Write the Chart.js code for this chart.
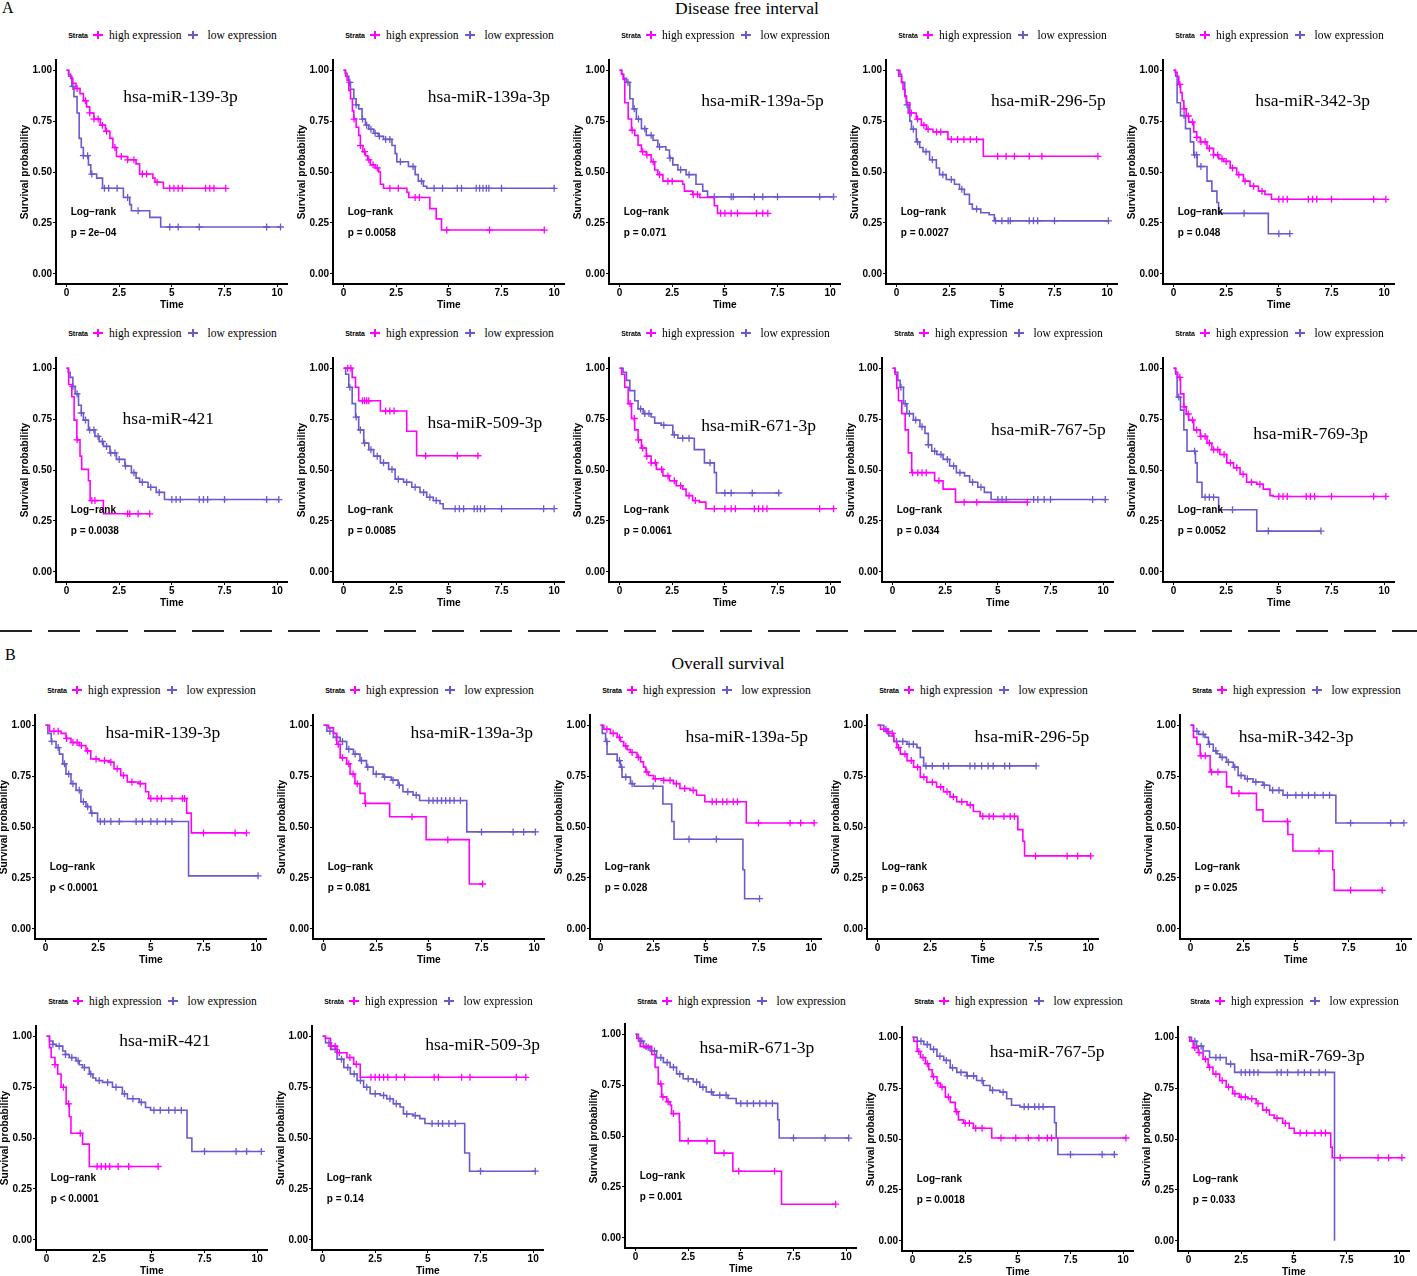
<!DOCTYPE html>
<html>
<head>
<meta charset="utf-8">
<title>Kaplan-Meier curves</title>
<script src="https://cdn.jsdelivr.net/npm/chart.js@4.4.1/dist/chart.umd.min.js"></script>
<style>
  html, body { margin: 0; padding: 0; background: #fff; }
  body { width: 1417px; height: 1276px; position: relative; overflow: hidden; font-family: "Liberation Sans", Arial, sans-serif; }
  .panel { position: absolute; }
  .legend { position: absolute; width: 233px; height: 16px; display: flex; justify-content: center; align-items: center; white-space: nowrap; color: #000; }
  .strata { font: bold 7px "Liberation Sans", Arial, sans-serif; margin-right: 5px; }
  .lab { font: 11.5px "Liberation Serif", "Times New Roman", serif; }
  .key { position: relative; display: inline-block; width: 10px; height: 8px; }
  .key::before { content: ''; position: absolute; left: 0; right: 0; top: 3px; height: 2px; background: currentColor; }
  .key::after { content: ''; position: absolute; left: 4px; width: 2px; top: 0; bottom: 0; background: currentColor; }
  .hdr { position: absolute; font-family: "Liberation Serif", "Times New Roman", serif; font-size: 17.5px; line-height: 1; color: #000; white-space: nowrap; }
  .sep { position: absolute; left: 0; top: 630px; width: 1417px; height: 2px; background: repeating-linear-gradient(to right, #222 0 32px, transparent 32px 48px); }
</style>
</head>
<body>
<div class="hdr" style="left:2px; top:0px; font-size:16px;">A</div>
<div class="hdr" style="left:747px; top:0px; transform:translateX(-50%);">Disease free interval</div>
<div class="sep"></div>
<div class="hdr" style="left:5px; top:647px; font-size:16px;">B</div>
<div class="hdr" style="left:728px; top:655px; transform:translateX(-50%);">Overall survival</div>

<script>
// Kaplan-Meier panels - miRNA high / low expression
// ==================================================

// axis ticks
const xTicks = [0, 2.5, 5, 7.5, 10];
const yTicks = [0, 0.25, 0.5, 0.75, 1];

// titles and p values, panel order = left to right, top to bottom
const dfiTitles = ['hsa-miR-139-3p', 'hsa-miR-139a-3p', 'hsa-miR-139a-5p', 'hsa-miR-296-5p', 'hsa-miR-342-3p',
                   'hsa-miR-421', 'hsa-miR-509-3p', 'hsa-miR-671-3p', 'hsa-miR-767-5p', 'hsa-miR-769-3p'];
const osTitles = dfiTitles.slice();
const dfiPvals = ['p = 2e\u221204', 'p = 0.0058', 'p = 0.071', 'p = 0.0027', 'p = 0.048',
                  'p = 0.0038', 'p = 0.0085', 'p = 0.0061', 'p = 0.034', 'p = 0.0052'];
const osPvals = ['p < 0.0001', 'p = 0.081', 'p = 0.028', 'p = 0.063', 'p = 0.025',
                 'p < 0.0001', 'p = 0.14', 'p = 0.001', 'p = 0.0018', 'p = 0.033'];

// ---- Disease free interval: [time, survival] steps + censor times ----
const dfi139_3pHi = [[0,1],[0.1,0.98],[0.2,0.96],[0.3,0.935],[0.45,0.91],[0.64,0.885],[0.8,0.85],[0.95,0.82],[1.1,0.79],[1.3,0.76],[1.6,0.73],[1.85,0.7],[2.06,0.665],[2.2,0.62],[2.37,0.576],[2.9,0.56],[3.3,0.54],[3.47,0.49],[4.1,0.47],[4.2,0.45],[4.6,0.42],[7.56,0.42]];
const dfi139_3pHiCens = [0.5,0.9,1.1,1.3,1.5,1.7,1.9,2.3,2.6,2.9,3.2,3.6,3.8,4.3,4.9,5.1,5.3,5.5,6.6,6.8,7.0,7.56];
const dfi139_3pLo = [[0,1],[0.1,0.97],[0.25,0.92],[0.35,0.87],[0.5,0.79],[0.6,0.665],[0.7,0.62],[0.8,0.58],[1.04,0.535],[1.15,0.49],[1.43,0.47],[1.71,0.42],[2.7,0.375],[3.0,0.34],[3.08,0.31],[3.95,0.277],[4.47,0.23],[10.16,0.23]];
const dfi139_3pLoCens = [0.3,0.8,1.0,1.2,1.8,2.0,2.4,2.9,3.4,4.9,5.3,6.3,9.5,10.16];

const dfi139a_3pHi = [[0,1],[0.1,0.97],[0.17,0.95],[0.25,0.9],[0.33,0.86],[0.42,0.8],[0.49,0.76],[0.6,0.72],[0.72,0.68],[0.8,0.63],[0.92,0.6],[1.04,0.58],[1.15,0.56],[1.27,0.535],[1.5,0.52],[1.67,0.5],[1.75,0.44],[1.9,0.42],[3.01,0.4],[3.1,0.375],[4.1,0.32],[4.4,0.27],[4.65,0.215],[9.53,0.215]];
const dfi139a_3pHiCens = [0.5,0.8,1.0,1.2,1.4,1.6,2.2,2.6,3.4,3.6,4.9,6.93,9.53];
const dfi139a_3pLo = [[0,1],[0.08,0.985],[0.17,0.97],[0.25,0.94],[0.33,0.906],[0.49,0.86],[0.6,0.83],[0.72,0.81],[0.88,0.76],[1.04,0.73],[1.2,0.71],[1.43,0.69],[1.65,0.675],[1.9,0.66],[2.3,0.63],[2.45,0.59],[2.53,0.55],[3.08,0.527],[3.4,0.487],[3.55,0.455],[3.79,0.43],[3.95,0.42],[10.0,0.42]];
const dfi139a_3pLoCens = [0.3,0.6,0.9,1.1,1.3,1.5,1.7,2.0,2.2,2.7,3.3,3.7,4.3,4.7,5.4,5.6,6.3,6.46,6.62,6.78,6.9,7.5,10.0];

const dfi139a_5pHi = [[0,1],[0.1,0.98],[0.17,0.955],[0.25,0.84],[0.41,0.76],[0.57,0.705],[0.72,0.68],[0.88,0.632],[1.04,0.6],[1.27,0.584],[1.5,0.55],[1.67,0.51],[1.82,0.487],[2.06,0.455],[3.0,0.44],[3.08,0.406],[3.47,0.39],[3.8,0.375],[4.5,0.334],[4.65,0.297],[7.04,0.297]];
const dfi139a_5pHiCens = [0.6,1.1,1.3,1.6,1.9,2.3,2.5,3.5,3.7,4.8,5.0,5.3,5.6,6.5,6.8,7.04];
const dfi139a_5pLo = [[0,1],[0.1,0.98],[0.2,0.96],[0.33,0.94],[0.49,0.86],[0.64,0.81],[0.8,0.76],[1.04,0.713],[1.27,0.68],[1.59,0.656],[1.82,0.624],[2.2,0.608],[2.37,0.568],[2.53,0.535],[2.77,0.511],[3.16,0.487],[3.63,0.44],[3.95,0.406],[4.18,0.378],[10.16,0.378]];
const dfi139a_5pLoCens = [0.4,0.7,0.9,1.2,1.5,1.9,2.4,2.9,3.3,4.5,5.3,5.4,6.4,6.8,7.5,9.5,10.16];

const dfi296_5pHi = [[0,1],[0.16,0.98],[0.24,0.94],[0.31,0.906],[0.4,0.87],[0.47,0.84],[0.63,0.79],[0.94,0.76],[1.18,0.73],[1.42,0.71],[1.73,0.697],[2.44,0.66],[4.12,0.577],[9.56,0.577]];
const dfi296_5pHiCens = [0.7,1.0,1.3,1.5,1.9,2.1,2.6,2.9,3.2,3.5,3.8,4.8,5.2,5.6,6.3,6.9,9.56];
const dfi296_5pLo = [[0,1],[0.1,0.97],[0.24,0.94],[0.39,0.874],[0.47,0.83],[0.55,0.79],[0.63,0.75],[0.71,0.71],[0.94,0.648],[1.1,0.62],[1.26,0.6],[1.57,0.56],[1.89,0.52],[2.04,0.487],[2.36,0.463],[2.75,0.44],[2.99,0.415],[3.22,0.39],[3.46,0.342],[3.6,0.318],[4.0,0.3],[4.4,0.29],[4.64,0.26],[10.06,0.26]];
const dfi296_5pLoCens = [0.5,0.8,1.0,1.4,1.7,2.2,2.6,3.1,3.8,4.7,5.0,5.3,5.4,6.3,6.5,6.7,7.5,10.06];

const dfi342_3pHi = [[0,1],[0.08,0.99],[0.17,0.97],[0.25,0.93],[0.33,0.89],[0.41,0.85],[0.49,0.81],[0.6,0.775],[0.72,0.745],[0.96,0.697],[1.1,0.67],[1.27,0.648],[1.59,0.616],[1.9,0.584],[2.15,0.565],[2.37,0.552],[2.69,0.52],[3.0,0.487],[3.32,0.455],[3.63,0.43],[4.03,0.406],[4.34,0.39],[4.65,0.366],[10.08,0.366]];
const dfi342_3pHiCens = [0.3,0.5,0.7,0.9,1.1,1.3,1.5,1.7,1.9,2.1,2.3,2.5,2.8,3.1,3.4,3.8,4.2,5.0,5.2,5.4,6.4,6.6,6.8,7.5,9.5,10.08];
const dfi342_3pLo = [[0,1],[0.1,0.97],[0.17,0.84],[0.33,0.777],[0.57,0.713],[0.8,0.648],[0.96,0.584],[1.12,0.527],[1.59,0.455],[1.82,0.406],[2.06,0.35],[2.14,0.297],[4.5,0.197],[5.52,0.197]];
const dfi342_3pLoCens = [0.5,1.0,1.1,1.3,3.35,5.0,5.52];

const dfi421Hi = [[0,1],[0.1,0.92],[0.25,0.86],[0.36,0.745],[0.49,0.648],[0.64,0.568],[0.72,0.503],[1.04,0.447],[1.12,0.35],[1.75,0.285],[3.95,0.285]];
const dfi421HiCens = [0.5,1.2,1.35,2.9,3.0,3.4,3.95];
const dfi421Lo = [[0,1],[0.08,0.98],[0.17,0.955],[0.3,0.91],[0.41,0.874],[0.57,0.818],[0.7,0.78],[0.8,0.745],[1.04,0.697],[1.35,0.665],[1.55,0.64],[1.75,0.616],[2.06,0.584],[2.37,0.552],[2.77,0.52],[3.08,0.487],[3.3,0.46],[3.47,0.44],[3.87,0.415],[4.26,0.39],[4.65,0.355],[10.08,0.355]];
const dfi421LoCens = [0.3,0.5,0.7,0.9,1.1,1.3,1.5,1.7,1.9,2.1,2.3,2.5,2.8,3.2,3.6,4.0,4.4,5.0,5.2,5.4,6.3,6.5,6.7,7.5,9.5,10.08];

const dfi509_3pHi = [[0,1],[0.41,0.955],[0.57,0.906],[0.72,0.84],[1.75,0.79],[3.0,0.69],[3.47,0.57],[6.38,0.57]];
const dfi509_3pHiCens = [0.2,0.35,0.9,1.0,1.1,1.2,2.0,2.2,2.4,3.9,5.4,6.38];
const dfi509_3pLo = [[0,1],[0.1,0.97],[0.25,0.906],[0.41,0.826],[0.57,0.76],[0.72,0.697],[0.96,0.632],[1.2,0.6],[1.43,0.568],[1.75,0.535],[2.14,0.503],[2.45,0.455],[2.85,0.44],[3.24,0.415],[3.63,0.39],[3.95,0.366],[4.26,0.35],[4.58,0.334],[4.73,0.31],[10.0,0.31]];
const dfi509_3pLoCens = [0.3,0.6,0.8,1.0,1.3,1.6,1.9,2.3,2.6,3.0,3.4,3.8,4.1,4.4,5.3,5.5,5.7,6.2,6.35,6.5,6.7,7.5,9.5,10.0];

const dfi671_3pHi = [[0,1],[0.1,0.97],[0.25,0.906],[0.41,0.826],[0.57,0.753],[0.72,0.697],[0.88,0.648],[1.04,0.608],[1.27,0.568],[1.5,0.535],[1.75,0.503],[2.06,0.471],[2.37,0.447],[2.69,0.423],[3.0,0.406],[3.16,0.374],[3.47,0.35],[3.79,0.342],[4.1,0.31],[10.16,0.31]];
const dfi671_3pHiCens = [0.5,0.7,0.9,1.1,1.3,1.5,1.7,2.0,2.3,2.6,2.9,3.3,3.6,4.5,5.0,5.3,5.5,6.4,6.6,6.8,7.0,9.5,10.16];
const dfi671_3pLo = [[0,1],[0.17,0.98],[0.33,0.94],[0.49,0.89],[0.72,0.84],[0.88,0.8],[1.12,0.777],[1.5,0.76],[1.67,0.73],[1.98,0.72],[2.53,0.673],[2.77,0.656],[3.55,0.6],[4.03,0.535],[4.5,0.487],[4.6,0.387],[7.56,0.387]];
const dfi671_3pLoCens = [1.0,1.2,1.4,2.1,2.6,3.0,3.3,4.3,5.0,5.3,6.3,7.56];

const dfi767_5pHi = [[0,1],[0.12,0.97],[0.2,0.9],[0.28,0.84],[0.44,0.777],[0.6,0.697],[0.75,0.584],[0.91,0.487],[2.0,0.447],[2.4,0.406],[2.99,0.342],[6.4,0.342]];
const dfi767_5pHiCens = [0.95,1.2,1.4,1.6,2.2,3.4,4.0,6.4];
const dfi767_5pLo = [[0,1],[0.12,0.98],[0.25,0.94],[0.36,0.906],[0.52,0.826],[0.68,0.777],[0.99,0.745],[1.3,0.713],[1.54,0.68],[1.7,0.624],[1.86,0.592],[2.1,0.576],[2.4,0.552],[2.71,0.52],[3.03,0.487],[3.42,0.471],[3.66,0.44],[4.05,0.415],[4.36,0.39],[4.68,0.355],[10.1,0.355]];
const dfi767_5pLoCens = [0.4,0.6,0.8,1.1,1.4,1.7,2.0,2.3,2.6,2.9,3.2,3.8,4.2,5.0,5.2,5.4,6.7,6.9,7.2,7.5,9.5,10.1];

const dfi769_3pHi = [[0,1],[0.1,0.98],[0.2,0.955],[0.33,0.874],[0.49,0.81],[0.6,0.775],[0.72,0.745],[0.96,0.697],[1.27,0.665],[1.59,0.632],[1.82,0.6],[2.2,0.576],[2.53,0.535],[2.85,0.511],[3.16,0.479],[3.47,0.44],[3.95,0.43],[4.26,0.406],[4.58,0.374],[4.73,0.37],[10.08,0.37]];
const dfi769_3pHiCens = [0.3,0.5,0.7,0.9,1.1,1.3,1.5,1.7,1.9,2.1,2.4,2.7,3.0,3.3,3.7,4.1,5.0,5.2,5.4,6.3,6.5,6.7,7.5,9.5,10.08];
const dfi769_3pLo = [[0,1],[0.1,0.97],[0.17,0.858],[0.33,0.794],[0.49,0.697],[0.64,0.592],[1.04,0.535],[1.12,0.44],[1.35,0.366],[2.14,0.305],[3.95,0.2],[7.0,0.2]];
const dfi769_3pLoCens = [0.25,1.0,1.5,1.7,1.9,2.8,4.5,7.0];

// ---- Overall survival ----
const os139_3pHi = [[0,1],[0.19,0.97],[0.74,0.96],[0.97,0.935],[1.21,0.915],[1.6,0.9],[1.92,0.874],[2.15,0.834],[2.55,0.826],[3.02,0.818],[3.25,0.786],[3.57,0.753],[3.88,0.721],[4.43,0.713],[4.75,0.673],[4.9,0.64],[6.7,0.568],[6.92,0.471],[9.54,0.471]];
const os139_3pHiCens = [0.4,0.6,1.0,1.3,1.5,1.7,2.0,2.4,2.8,3.1,3.4,3.7,4.1,4.5,5.0,5.3,5.5,6.0,6.5,6.6,7.5,9.0,9.54];
const os139_3pLo = [[0,1],[0.11,0.96],[0.27,0.92],[0.5,0.89],[0.66,0.858],[0.82,0.81],[0.97,0.76],[1.21,0.713],[1.45,0.68],[1.68,0.624],[1.92,0.6],[2.15,0.568],[2.47,0.527],[6.79,0.26],[10.09,0.26]];
const os139_3pLoCens = [0.3,0.6,0.9,1.1,1.3,1.6,1.8,2.0,2.2,2.6,2.8,3.1,3.5,4.3,4.6,5.0,5.3,5.7,6.0,10.09];

const os139a_3pHi = [[0,1],[0.24,0.987],[0.47,0.96],[0.63,0.906],[0.79,0.84],[1.1,0.81],[1.26,0.76],[1.49,0.713],[1.73,0.665],[1.97,0.616],[3.14,0.55],[4.87,0.438],[6.92,0.22],[7.55,0.22]];
const os139a_3pHiCens = [0.7,0.9,1.2,1.4,1.6,2.0,4.2,5.9,7.55];
const os139a_3pLo = [[0,1],[0.16,0.97],[0.47,0.94],[0.79,0.92],[1.1,0.882],[1.42,0.858],[1.73,0.826],[2.04,0.794],[2.36,0.76],[2.83,0.745],[3.22,0.73],[3.54,0.705],[3.77,0.673],[4.25,0.656],[4.56,0.63],[6.8,0.476],[10.06,0.476]];
const os139a_3pLoCens = [0.3,0.6,0.9,1.2,1.5,1.8,2.1,2.5,2.9,3.3,3.6,4.0,4.4,5.0,5.2,5.4,5.6,5.8,6.0,6.2,6.5,7.5,9.0,9.5,10.06];

const os139a_5pHi = [[0,1],[0.16,0.98],[0.47,0.96],[0.79,0.94],[0.95,0.92],[1.1,0.898],[1.26,0.88],[1.42,0.866],[1.73,0.842],[1.9,0.82],[2.04,0.794],[2.15,0.77],[2.28,0.753],[2.52,0.737],[2.99,0.729],[3.46,0.713],[3.77,0.689],[4.25,0.68],[4.56,0.656],[4.95,0.624],[6.92,0.52],[10.14,0.52]];
const os139a_5pHiCens = [0.3,0.6,0.9,1.2,1.5,1.8,2.2,2.6,3.0,3.3,3.6,4.0,4.4,5.3,5.5,5.8,6.0,6.3,6.5,7.5,9.0,9.5,10.14];
const os139a_5pLo = [[0,1],[0.08,0.96],[0.24,0.92],[0.31,0.858],[0.79,0.826],[0.94,0.794],[1.02,0.745],[1.42,0.713],[1.6,0.7],[2.96,0.613],[3.38,0.527],[3.49,0.44],[6.76,0.29],[6.84,0.148],[7.55,0.148]];
const os139a_5pLoCens = [0.3,0.9,1.0,1.2,1.5,2.5,4.2,5.5,7.55];

const os296_5pHi = [[0,1],[0.14,0.98],[0.45,0.96],[0.77,0.92],[0.92,0.89],[1.08,0.858],[1.4,0.826],[1.71,0.794],[2.03,0.745],[2.34,0.72],[2.8,0.697],[3.13,0.673],[3.44,0.648],[3.76,0.624],[4.25,0.608],[4.55,0.576],[4.87,0.552],[6.66,0.487],[6.9,0.43],[6.98,0.358],[10.12,0.358]];
const os296_5pHiCens = [0.4,0.7,1.0,1.3,1.6,1.9,2.2,2.6,3.0,3.3,3.6,4.0,4.4,5.0,5.3,5.5,6.0,6.3,6.5,7.5,9.0,9.5,10.12];
const os296_5pLo = [[0,1],[0.3,0.97],[0.53,0.947],[0.77,0.92],[1.4,0.906],[1.87,0.89],[2.03,0.842],[2.19,0.8],[7.53,0.8]];
const os296_5pLoCens = [0.5,0.9,1.2,1.5,1.7,2.3,2.6,3.13,3.37,4.39,4.62,4.94,5.25,5.49,6.04,6.27,7.53];

const os342_3pHi = [[0,1],[0.14,0.94],[0.3,0.906],[0.46,0.85],[0.93,0.77],[1.71,0.697],[1.95,0.665],[3.13,0.584],[3.44,0.527],[4.62,0.463],[4.86,0.382],[6.75,0.29],[6.82,0.189],[9.1,0.189]];
const os342_3pHiCens = [0.5,0.7,1.0,1.3,2.3,4.6,6.1,7.6,9.1];
const os342_3pLo = [[0,1],[0.14,0.97],[0.38,0.955],[0.69,0.94],[0.85,0.906],[1.08,0.874],[1.25,0.86],[1.4,0.842],[1.71,0.818],[2.03,0.794],[2.26,0.753],[2.58,0.737],[2.97,0.721],[3.44,0.705],[3.76,0.68],[4.39,0.656],[6.9,0.52],[10.13,0.52]];
const os342_3pLoCens = [0.3,0.6,0.9,1.2,1.5,1.8,2.1,2.4,2.7,3.1,3.5,3.9,4.2,4.6,5.0,5.3,5.6,5.9,6.3,6.6,7.6,9.5,10.13];

const os421Hi = [[0,1],[0.14,0.944],[0.22,0.895],[0.4,0.86],[0.53,0.814],[0.69,0.749],[0.93,0.668],[1.08,0.604],[1.16,0.523],[1.71,0.47],[2.03,0.36],[5.3,0.36]];
const os421HiCens = [0.4,0.8,1.05,1.6,2.4,2.6,2.8,3.0,3.4,3.9,5.3];
const os421Lo = [[0,1],[0.14,0.976],[0.3,0.96],[0.46,0.951],[0.77,0.927],[0.9,0.91],[1.08,0.895],[1.4,0.879],[1.55,0.86],[1.71,0.846],[2.03,0.814],[2.2,0.795],[2.34,0.782],[2.66,0.773],[3.13,0.749],[3.6,0.717],[3.84,0.693],[4.4,0.675],[4.7,0.65],[4.94,0.636],[6.67,0.5],[6.9,0.434],[10.2,0.434]];
const os421LoCens = [0.3,0.6,0.9,1.2,1.5,1.8,2.1,2.5,2.9,3.3,3.7,4.1,4.5,5.1,5.4,5.8,6.1,6.4,7.5,9.0,9.5,10.2];

const os509_3pHi = [[0,1],[0.14,0.99],[0.38,0.951],[0.69,0.919],[1.16,0.895],[1.48,0.862],[1.79,0.798],[9.65,0.798]];
const os509_3pHiCens = [0.4,0.6,0.8,1.3,1.6,2.3,2.5,2.7,2.9,3.1,3.5,3.9,5.3,5.5,6.6,7.0,9.2,9.65];
const os509_3pLo = [[0,1],[0.14,0.968],[0.38,0.935],[0.69,0.887],[1.01,0.846],[1.32,0.814],[1.64,0.782],[1.95,0.749],[2.26,0.717],[2.74,0.709],[3.05,0.693],[3.36,0.668],[3.68,0.652],[3.84,0.618],[4.3,0.61],[4.62,0.595],[4.86,0.571],[6.75,0.426],[6.98,0.337],[10.1,0.337]];
const os509_3pLoCens = [0.3,0.6,0.9,1.2,1.5,1.8,2.1,2.5,2.9,3.2,3.5,4.0,4.4,5.2,5.5,5.7,6.0,6.3,7.5,10.1];

const os671_3pHi = [[0,1],[0.06,0.98],[0.22,0.94],[0.77,0.9],[0.93,0.837],[1.08,0.756],[1.24,0.692],[1.48,0.668],[1.64,0.652],[1.71,0.61],[2.08,0.568],[2.1,0.476],[3.76,0.416],[4.62,0.327],[6.93,0.165],[9.5,0.165]];
const os671_3pHiCens = [0.5,1.2,1.3,1.55,1.8,2.5,3.4,4.2,4.9,6.6,9.5];
const os671_3pLo = [[0,1],[0.14,0.966],[0.38,0.934],[0.69,0.918],[1.0,0.885],[1.32,0.861],[1.64,0.837],[1.95,0.805],[2.26,0.781],[2.74,0.765],[3.05,0.74],[3.36,0.716],[3.68,0.7],[4.39,0.684],[4.78,0.66],[6.75,0.58],[6.82,0.49],[10.12,0.49]];
const os671_3pLoCens = [0.3,0.6,0.9,1.2,1.5,1.8,2.1,2.5,2.9,3.2,3.6,4.0,4.3,5.0,5.3,5.6,5.9,6.2,6.5,7.5,9.0,10.12];

const os767_5pHi = [[0,1],[0.06,0.98],[0.22,0.93],[0.38,0.9],[0.61,0.87],[0.77,0.84],[0.93,0.806],[1.16,0.774],[1.32,0.755],[1.56,0.706],[1.79,0.68],[2.03,0.634],[2.18,0.594],[2.42,0.577],[2.89,0.553],[3.76,0.505],[10.13,0.505]];
const os767_5pHiCens = [0.3,0.5,0.7,1.0,1.2,1.4,1.7,2.1,2.5,2.7,3.0,3.3,4.2,4.9,5.5,6.0,6.4,6.6,10.13];
const os767_5pLo = [[0,1],[0.22,0.98],[0.53,0.964],[0.85,0.94],[1.16,0.906],[1.48,0.886],[1.79,0.85],[2.1,0.827],[2.57,0.81],[3.04,0.787],[3.36,0.763],[3.68,0.739],[4.15,0.73],[4.47,0.698],[4.7,0.666],[5.1,0.658],[6.74,0.58],[6.82,0.505],[6.9,0.424],[9.58,0.424]];
const os767_5pLoCens = [0.4,0.7,1.0,1.3,1.6,1.9,2.3,2.6,2.9,3.3,3.8,4.3,5.3,5.5,5.8,6.0,6.2,7.5,9.0,9.58];

const os769_3pHi = [[0,1],[0.06,0.98],[0.22,0.948],[0.46,0.924],[0.69,0.892],[0.93,0.852],[1.16,0.819],[1.48,0.787],[1.79,0.755],[2.1,0.723],[2.42,0.706],[2.81,0.698],[3.21,0.674],[3.52,0.642],[3.84,0.618],[4.07,0.602],[4.47,0.577],[4.78,0.553],[5.02,0.529],[6.75,0.46],[6.82,0.408],[10.13,0.408]];
const os769_3pHiCens = [0.3,0.5,0.8,1.0,1.3,1.6,1.9,2.2,2.5,2.7,3.0,3.3,3.7,4.2,4.6,5.3,5.6,6.0,6.3,6.5,7.2,9.0,9.5,10.13];
const os769_3pLo = [[0,1],[0.14,0.98],[0.38,0.956],[0.69,0.932],[1.0,0.9],[1.79,0.868],[2.19,0.827],[6.93,0]];
const os769_3pLoCens = [0.3,0.6,1.3,1.5,2.0,2.5,2.7,2.9,3.1,3.3,4.2,4.4,4.7,5.2,5.5,5.8,6.2,6.5];

// panel list (data only), same order as the titles
const curves = [
  [dfi139_3pHi, dfi139_3pHiCens, dfi139_3pLo, dfi139_3pLoCens],
  [dfi139a_3pHi, dfi139a_3pHiCens, dfi139a_3pLo, dfi139a_3pLoCens],
  [dfi139a_5pHi, dfi139a_5pHiCens, dfi139a_5pLo, dfi139a_5pLoCens],
  [dfi296_5pHi, dfi296_5pHiCens, dfi296_5pLo, dfi296_5pLoCens],
  [dfi342_3pHi, dfi342_3pHiCens, dfi342_3pLo, dfi342_3pLoCens],
  [dfi421Hi, dfi421HiCens, dfi421Lo, dfi421LoCens],
  [dfi509_3pHi, dfi509_3pHiCens, dfi509_3pLo, dfi509_3pLoCens],
  [dfi671_3pHi, dfi671_3pHiCens, dfi671_3pLo, dfi671_3pLoCens],
  [dfi767_5pHi, dfi767_5pHiCens, dfi767_5pLo, dfi767_5pLoCens],
  [dfi769_3pHi, dfi769_3pHiCens, dfi769_3pLo, dfi769_3pLoCens],
  [os139_3pHi, os139_3pHiCens, os139_3pLo, os139_3pLoCens],
  [os139a_3pHi, os139a_3pHiCens, os139a_3pLo, os139a_3pLoCens],
  [os139a_5pHi, os139a_5pHiCens, os139a_5pLo, os139a_5pLoCens],
  [os296_5pHi, os296_5pHiCens, os296_5pLo, os296_5pLoCens],
  [os342_3pHi, os342_3pHiCens, os342_3pLo, os342_3pLoCens],
  [os421Hi, os421HiCens, os421Lo, os421LoCens],
  [os509_3pHi, os509_3pHiCens, os509_3pLo, os509_3pLoCens],
  [os671_3pHi, os671_3pHiCens, os671_3pLo, os671_3pLoCens],
  [os767_5pHi, os767_5pHiCens, os767_5pLo, os767_5pLoCens],
  [os769_3pHi, os769_3pHiCens, os769_3pLo, os769_3pLoCens]
];

// layout: page position of each y axis line / x axis line, legend row, title anchor (data units)
const axisLeft = [56, 333, 609, 886, 1163, 56, 333, 609, 882, 1163, 35, 313, 590, 867, 1180, 36, 312, 625, 902, 1178];
const axisBottom = [284, 284, 284, 284, 284, 582, 582, 582, 582, 582, 939, 939, 939, 939, 939, 1250, 1250, 1248, 1251, 1251];
const legendRowY = [35, 333, 690, 1001];
const titleAnchor = [[5.41, 0.866], [6.9, 0.866], [6.79, 0.847], [7.21, 0.847], [6.6, 0.847],
                     [4.83, 0.75], [6.71, 0.729], [6.6, 0.713], [7.4, 0.693], [6.51, 0.677],
                     [5.57, 0.959], [7.04, 0.959], [6.94, 0.939], [7.33, 0.939], [5.01, 0.939],
                     [5.62, 0.976], [7.6, 0.956], [5.76, 0.93], [6.39, 0.927], [5.64, 0.908]];

const HIGH_COLOR = '#FF00FF';
const LOW_COLOR = '#6A5ACD';
const SANS = '"Liberation Sans", Arial, sans-serif';
const PLOT_W = 233, PLOT_H = 227, PAD_L = 40, PAD_T = 4, PAD_R = 4, PAD_B = 28;

// survival value of a step curve at time t
function survAt(curve, t) {
    let s = 1;
    for (const [ct, cs] of curve) {
        if (ct <= t) s = cs; else break;
    }
    return s;
}

// draws the miRNA name and the log-rank text inside the panel
const kmText = {
    id: 'kmText',
    afterDatasetsDraw(chart, args, opts) {
        const { ctx, scales: { x, y } } = chart;
        ctx.save();
        ctx.fillStyle = '#000';
        ctx.font = '17.5px "Liberation Serif", "Times New Roman", serif';
        ctx.textAlign = 'center';
        ctx.textBaseline = 'middle';
        ctx.fillText(opts.title, x.getPixelForValue(opts.tx), y.getPixelForValue(opts.ty));
        ctx.font = 'bold 10px ' + SANS;
        ctx.textAlign = 'left';
        ctx.fillText('Log\u2212rank', x.getPixelForValue(0.2), y.getPixelForValue(0.3));
        ctx.fillText(opts.p, x.getPixelForValue(0.2), y.getPixelForValue(0.2));
        ctx.restore();
    }
};

function stepSet(curve, color) {
    return {
        type: 'line',
        data: curve.map(([x, y]) => ({ x, y })),
        stepped: 'before',
        borderColor: color,
        borderWidth: 1.6,
        pointRadius: 0,
        fill: false
    };
}

function censorSet(times, curve, color) {
    return {
        type: 'scatter',
        data: times.map(t => ({ x: t, y: survAt(curve, t) })),
        pointStyle: 'cross',
        pointRadius: 3.5,
        pointBorderWidth: 1.3,
        borderColor: color,
        backgroundColor: color,
        showLine: false
    };
}

function addLegend(i) {
    const lg = document.createElement('div');
    lg.className = 'legend';
    lg.style.left = axisLeft[i] + 'px';
    lg.style.top = (legendRowY[Math.floor(i / 5)] - 8) + 'px';
    lg.innerHTML = `
        <span class="strata">Strata</span>
        <span class="key" style="color:${HIGH_COLOR}; margin-right:6px;"></span>
        <span class="lab">high expression</span>
        <span class="key" style="color:${LOW_COLOR}; margin:0 10px 0 6px;"></span>
        <span class="lab">low expression</span>`;
    document.body.appendChild(lg);
}

function axisOptions(ticks, min, max, fitSide, titleText, titlePad, fmt) {
    return {
        type: 'linear',
        min: min, max: max,
        afterBuildTicks: (s) => { s.ticks = ticks.map(v => ({ value: v })); },
        afterFit: fitSide,
        grid: { display: true, drawOnChartArea: false, drawTicks: true, tickLength: 3, color: '#000', lineWidth: 1 },
        border: { display: true, color: '#000', width: 2 },
        ticks: {
            autoSkip: false, maxRotation: 0, padding: fmt === 'x' ? 0 : 1, color: '#000',
            font: { family: SANS, size: 10, weight: 'bold' },
            callback: (v) => fmt === 'x' ? String(v) : Number(v).toFixed(2)
        },
        title: {
            display: true, text: titleText, color: '#000',
            font: { family: SANS, size: 10.2, weight: 'bold' },
            padding: titlePad
        }
    };
}

function renderPanel(i) {
    const [hi, hiCens, lo, loCens] = curves[i];
    const title = i < 10 ? dfiTitles[i] : osTitles[i - 10];
    const p = i < 10 ? dfiPvals[i] : osPvals[i - 10];

    const box = document.createElement('div');
    box.className = 'panel';
    box.style.left = (axisLeft[i] - PAD_L) + 'px';
    box.style.top = (axisBottom[i] - PLOT_H - PAD_T) + 'px';
    const canvas = document.createElement('canvas');
    canvas.width = PAD_L + PLOT_W + PAD_R;
    canvas.height = PAD_T + PLOT_H + PAD_B;
    box.appendChild(canvas);
    document.body.appendChild(box);

    new Chart(canvas.getContext('2d'), {
        type: 'line',
        data: {
            datasets: [
                stepSet(hi, HIGH_COLOR),
                censorSet(hiCens, hi, HIGH_COLOR),
                stepSet(lo, LOW_COLOR),
                censorSet(loCens, lo, LOW_COLOR)
            ]
        },
        options: {
            responsive: false,
            animation: false,
            devicePixelRatio: 1,
            layout: { padding: { left: 0, top: PAD_T, right: PAD_R, bottom: 0 } },
            plugins: {
                legend: { display: false },
                tooltip: { enabled: false },
                kmText: { title: title, p: p, tx: titleAnchor[i][0], ty: titleAnchor[i][1] }
            },
            scales: {
                x: axisOptions(xTicks, -0.5, 10.5, (s) => { s.height = PAD_B; }, 'Time', { top: 0, bottom: 1 }, 'x'),
                y: axisOptions(yTicks, -0.05, 1.05, (s) => { s.width = PAD_L; }, 'Survival probability', { top: 3, bottom: 0 }, 'y')
            }
        },
        plugins: [kmText]
    });

    addLegend(i);
}

for (let i = 0; i < curves.length; i++) renderPanel(i);
</script>
</body>
</html>
